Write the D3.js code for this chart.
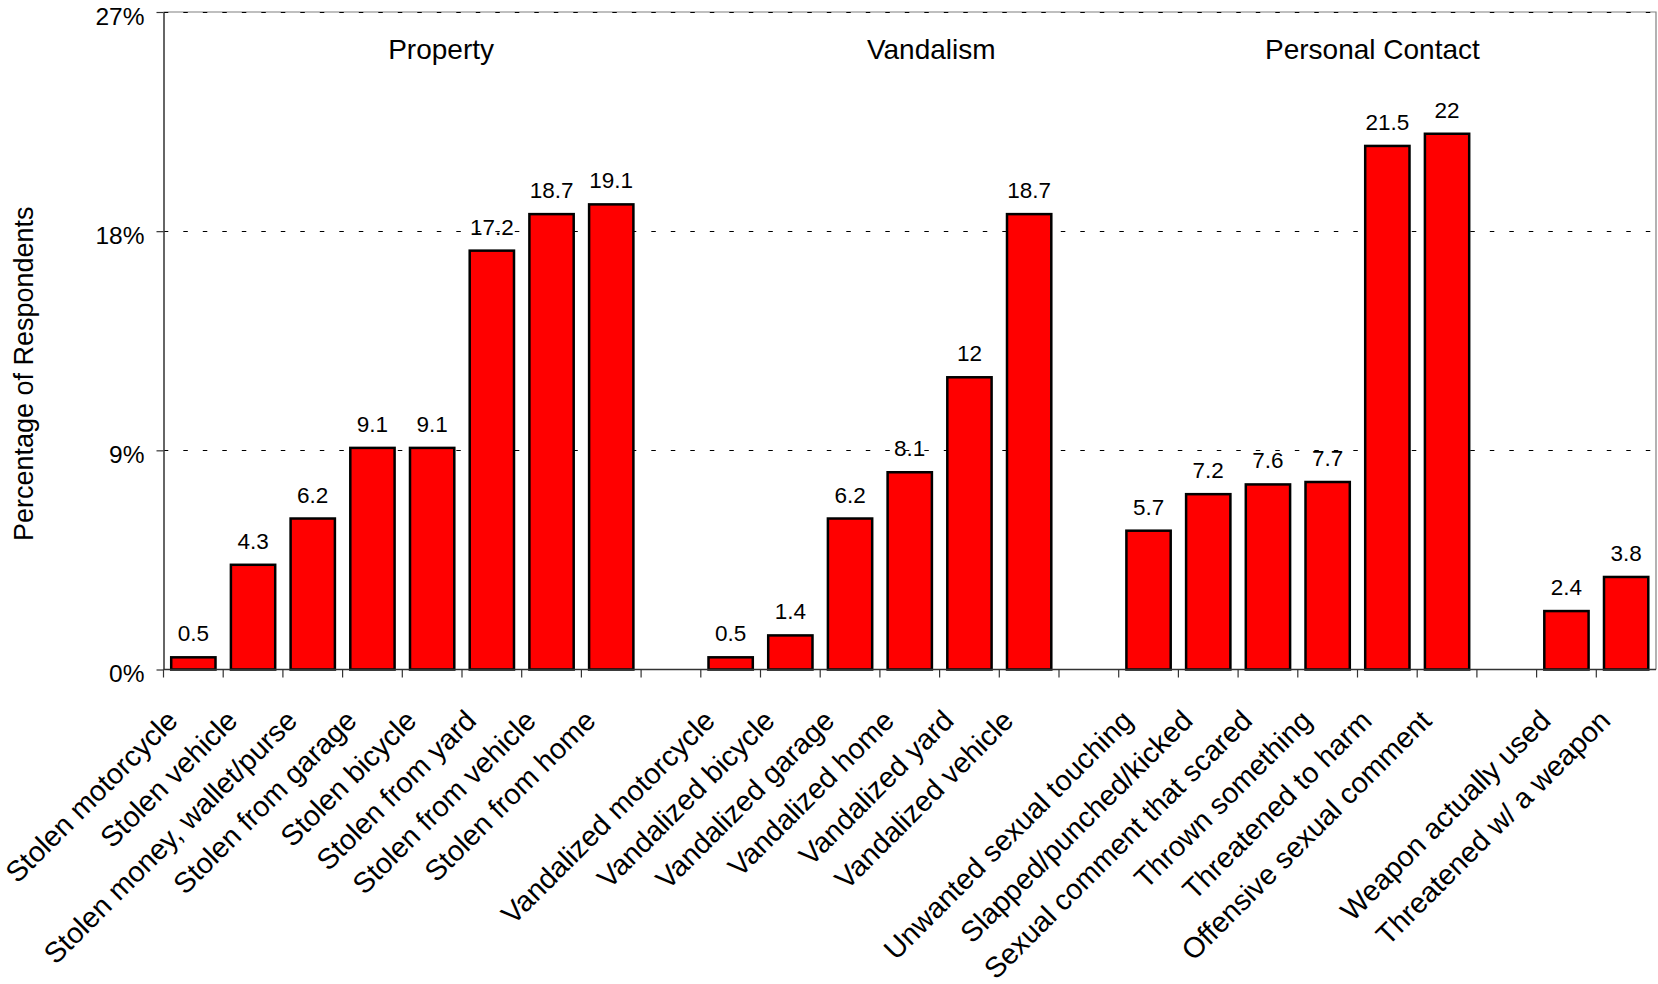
<!DOCTYPE html>
<html>
<head>
<meta charset="utf-8">
<script src="https://cdn.jsdelivr.net/npm/d3@7/dist/d3.min.js"></script>
<style>
  body { margin: 0; background: #fff; }
  svg { display: block; font-family: "Liberation Sans", Arial, Helvetica, sans-serif; }
</style>
</head>
<body>
<svg id="chart" width="1658" height="984"></svg>
<script>
// Victimization survey: share of respondents reporting each incident type
const propertyLabels = ["Stolen motorcycle", "Stolen vehicle", "Stolen money, wallet/purse", "Stolen from garage",
                        "Stolen bicycle", "Stolen from yard", "Stolen from vehicle", "Stolen from home"];
const propertyValues = [0.5, 4.3, 6.2, 9.1, 9.1, 17.2, 18.7, 19.1];

const vandalismLabels = ["Vandalized motorcycle", "Vandalized bicycle", "Vandalized garage", "Vandalized home",
                         "Vandalized yard", "Vandalized vehicle"];
const vandalismValues = [0.5, 1.4, 6.2, 8.1, 12, 18.7];

const contactLabels = ["Unwanted sexual touching", "Slapped/punched/kicked", "Sexual comment that scared",
                       "Thrown something", "Threatened to harm", "Offensive sexual comment"];
const contactValues = [5.7, 7.2, 7.6, 7.7, 21.5, 22];

const weaponLabels = ["Weapon actually used", "Threatened w/ a weapon"];
const weaponValues = [2.4, 3.8];

const groupTitles = ["Property", "Vandalism", "Personal Contact"];
const yTickValues = [0, 9, 18, 27];
const yAxisTitle = "Percentage of Respondents";

// Build the slot list: each group of bars, with one empty slot between groups
const groups = [
  [propertyLabels, propertyValues],
  [vandalismLabels, vandalismValues],
  [contactLabels, contactValues],
  [weaponLabels, weaponValues]
];
const slots = [];
groups.forEach(([labels, values], gi) => {
  if (gi > 0) slots.push({ key: "gap" + gi, label: null, value: null });
  labels.forEach((lab, i) => slots.push({ key: lab, label: lab, value: values[i] }));
});

const svg = d3.select("#chart");
const plotLeft = 163.5, plotRight = 1656, plotTop = 12, plotBottom = 669.5;

const x = d3.scaleBand().domain(slots.map(s => s.key)).range([plotLeft, plotRight]).padding(0);
const y = d3.scaleLinear().domain([0, 27]).range([plotBottom, plotTop]);
const bw = x.bandwidth();
const barW = bw * 0.742;

// Frame (top and right edges)
svg.append("path")
  .attr("d", `M${plotLeft},${plotTop}H${plotRight}V${plotBottom}`)
  .attr("fill", "none").attr("stroke", "#808080").attr("stroke-width", 1.2);

// Dashed gridlines
svg.append("g").selectAll("line")
  .data(yTickValues.filter(d => d > 0))
  .join("line")
  .attr("x1", plotLeft).attr("x2", plotRight)
  .attr("y1", d => Math.round(y(d)) + 0.5).attr("y2", d => Math.round(y(d)) + 0.5)
  .attr("stroke", "#000").attr("stroke-width", 1)
  .attr("stroke-dasharray", "4.5 15").attr("stroke-dashoffset", -0.3);

// Bars
const barSlots = slots.filter(s => s.label !== null);
svg.append("g").selectAll("rect")
  .data(barSlots)
  .join("rect")
  .attr("x", d => x(d.key) + (bw - barW) / 2)
  .attr("width", barW)
  .attr("y", d => y(d.value))
  .attr("height", d => y(0) - y(d.value))
  .attr("fill", "#ff0000")
  .attr("stroke", "#000")
  .attr("stroke-width", 2.5);

// Y axis
const yAxis = svg.append("g")
  .attr("transform", `translate(${plotLeft},0)`)
  .call(d3.axisLeft(y).tickValues(yTickValues).tickFormat(d => d + "%").tickSize(7).tickSizeOuter(0).tickPadding(12));
yAxis.select(".domain").attr("stroke", "#333").attr("stroke-width", 1.5);
yAxis.selectAll(".tick line").attr("stroke", "#333").attr("stroke-width", 1.2);
yAxis.selectAll(".tick text")
  .attr("font-size", 24.5).attr("fill", "#000").attr("dy", "0.5em")
  .style("font-family", "'Liberation Sans', Arial, sans-serif");

// X axis: baseline and ticks at slot boundaries
const xg = svg.append("g");
xg.append("line")
  .attr("x1", plotLeft).attr("x2", plotRight)
  .attr("y1", plotBottom).attr("y2", plotBottom)
  .attr("stroke", "#333").attr("stroke-width", 1.5);
xg.selectAll("line.tick")
  .data(slots.map(s => x(s.key)))
  .join("line")
  .attr("class", "tick")
  .attr("x1", d => d).attr("x2", d => d)
  .attr("y1", plotBottom).attr("y2", plotBottom + 8)
  .attr("stroke", "#333").attr("stroke-width", 1.2);

// Category labels, rotated
svg.append("g").selectAll("text")
  .data(barSlots)
  .join("text")
  .attr("transform", d => `translate(${x(d.key) + bw / 2 - 14},${plotBottom + 53}) rotate(-45)`)
  .attr("text-anchor", "end")
  .attr("font-size", 28.8)
  .attr("fill", "#000")
  .text(d => d.label);

// Value labels above bars
svg.append("g").selectAll("text")
  .data(barSlots)
  .join("text")
  .attr("x", d => x(d.key) + bw / 2)
  .attr("y", d => y(d.value) - 16)
  .attr("text-anchor", "middle")
  .attr("font-size", 22.5)
  .attr("fill", "#000")
  .text(d => d.value);

// Group titles along the top of the plot
const titleSlotPos = [4.65, 12.86, 20.25];
svg.append("g").selectAll("text")
  .data(groupTitles)
  .join("text")
  .attr("x", (d, i) => plotLeft + titleSlotPos[i] * bw)
  .attr("y", 59)
  .attr("text-anchor", "middle")
  .attr("font-size", 28)
  .attr("fill", "#000")
  .text(d => d);

// Y axis title
svg.append("text")
  .attr("transform", `translate(33,${(plotTop + plotBottom) / 2 + 33}) rotate(-90)`)
  .attr("text-anchor", "middle")
  .attr("font-size", 27)
  .attr("fill", "#000")
  .text(yAxisTitle);
</script>
</body>
</html>
